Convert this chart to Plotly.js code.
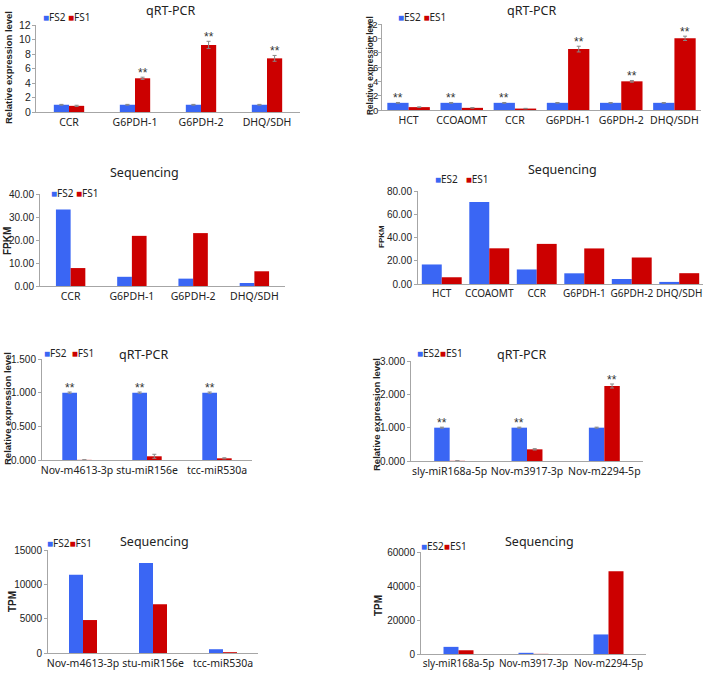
<!DOCTYPE html>
<html>
<head>
<meta charset="utf-8">
<script src="https://cdn.plot.ly/plotly-3.0.1.min.js"></script>
<style>
  body { margin: 0; background: #fff; }
  #chart { width: 706px; height: 675px; }
</style>
</head>
<body>
<div id="chart"></div>
<script>
// ---- data ----
const fsNames = ['FS2', 'FS1'];
const esNames = ['ES2', 'ES1'];

// panel 1: qRT-PCR, FS
const p1Cats = ['CCR', 'G6PDH-1', 'G6PDH-2', 'DHQ/SDH'];
const p1S2 = [1.0, 1.0, 1.0, 1.0];
const p1S1 = [0.85, 4.65, 9.25, 7.4];
const p1E2 = [0.05, 0.05, 0.05, 0.05];
const p1E1 = [0.08, 0.15, 0.5, 0.4];
const p1Star = ['', 'FS1', 'FS1', 'FS1'];
const p1YTicks = [0, 2, 4, 6, 8, 10, 12];

// panel 2: qRT-PCR, ES
const p2Cats = ['HCT', 'CCOAOMT', 'CCR', 'G6PDH-1', 'G6PDH-2', 'DHQ/SDH'];
const p2S2 = [1.0, 1.0, 1.0, 1.0, 1.0, 1.0];
const p2S1 = [0.4, 0.3, 0.2, 8.5, 4.0, 10.0];
const p2E2 = [0.05, 0.05, 0.05, 0.04, 0.04, 0.04];
const p2E1 = [0.03, 0.03, 0.03, 0.4, 0.12, 0.3];
const p2Star = ['ES2', 'ES2', 'ES2', 'ES1', 'ES1', 'ES1'];
const p2YTicks = [0, 2, 4, 6, 8, 10, 12];

// panel 3: Sequencing FPKM, FS
const p3Cats = ['CCR', 'G6PDH-1', 'G6PDH-2', 'DHQ/SDH'];
const p3S2 = [33.3, 4.0, 3.2, 1.3];
const p3S1 = [7.8, 21.8, 23.0, 6.4];

// panel 4: Sequencing FPKM, ES
const p4Cats = ['HCT', 'CCOAOMT', 'CCR', 'G6PDH-1', 'G6PDH-2', 'DHQ/SDH'];
const p4S2 = [16.8, 70.5, 12.5, 9.2, 4.3, 1.8];
const p4S1 = [5.8, 30.7, 34.5, 30.6, 22.8, 9.3];

// panel 5: qRT-PCR miRNA, FS
const p5Cats = ['Nov-m4613-3p', 'stu-miR156e', 'tcc-miR530a'];
const p5S2 = [1.0, 1.0, 1.0];
const p5S1 = [0.002, 0.055, 0.025];
const p5E2 = [0.01, 0.01, 0.01];
const p5E1 = [0.0, 0.03, 0.008];
const p5Star = ['FS2', 'FS2', 'FS2'];

// panel 6: qRT-PCR miRNA, ES
const p6Cats = ['sly-miR168a-5p', 'Nov-m3917-3p', 'Nov-m2294-5p'];
const p6S2 = [1.0, 1.0, 1.0];
const p6S1 = [0.005, 0.35, 2.25];
const p6E2 = [0.015, 0.015, 0.015];
const p6E1 = [0.0, 0.02, 0.06];
const p6Star = ['ES2', 'ES2', 'ES1'];

// panel 7: Sequencing TPM, FS
const p7Cats = ['Nov-m4613-3p', 'stu-miR156e', 'tcc-miR530a'];
const p7S2 = [11400, 13100, 550];
const p7S1 = [4800, 7100, 120];

// panel 8: Sequencing TPM, ES
const p8Cats = ['sly-miR168a-5p', 'Nov-m3917-3p', 'Nov-m2294-5p'];
const p8S2 = [4200, 700, 11500];
const p8S1 = [2200, 80, 48700];

// ---- layout helpers ----
const W = 706, H = 675;
const BLUE = '#3a66f4', RED = '#cc0000';
const FONT = 'Noto Sans, Liberation Sans, sans-serif';
const NUMFONT = 'Liberation Sans, Arial, sans-serif';

function px(x) { return x / W; }
function py(y) { return 1 - y / H; }

const traces = [];
const annotations = [];
const layout = {
  width: W, height: H,
  margin: {l: 0, r: 0, t: 0, b: 0},
  showlegend: false,
  barmode: 'overlay',
  font: {family: FONT, size: 10, color: '#333'},
  annotations: annotations
};

function panel(k, p) {
  const xa = 'xaxis' + (k === 1 ? '' : k), ya = 'yaxis' + (k === 1 ? '' : k);
  const xr = 'x' + (k === 1 ? '' : k), yr = 'y' + (k === 1 ? '' : k);
  const w = p.barW;
  const errStyle = {color: '#888', thickness: 1, width: 2};
  const series = [
    {name: p.names[0], y: p.s2, e: p.e2, color: BLUE, off: -w},
    {name: p.names[1], y: p.s1, e: p.e1, color: RED, off: 0}
  ];
  series.forEach(s => {
    const t = {
      type: 'bar', x: p.cats, y: s.y, name: s.name,
      width: w, offset: s.off,
      marker: {color: s.color, line: {width: 0}},
      xaxis: xr, yaxis: yr, hoverinfo: 'none'
    };
    if (s.e) t.error_y = Object.assign({type: 'data', array: s.e, visible: true}, errStyle);
    traces.push(t);
  });
  // significance stars
  if (p.star) {
    p.star.forEach((st, i) => {
      if (!st) return;
      const si = st === p.names[0] ? 0 : 1;
      const s = series[si];
      annotations.push({
        xref: xr, yref: yr, x: i + s.off + w / 2,
        y: s.y[i] + (s.e ? s.e[i] : 0),
        text: '**', showarrow: false, yanchor: 'bottom', yshift: -5,
        font: {family: NUMFONT, size: 12, color: '#333'}
      });
    });
  }
  const b = p.box;
  layout[xa] = {
    domain: [px(b[0]), px(b[1])], anchor: yr, type: 'category',
    range: [-0.5, p.cats.length - 0.5],
    showline: true, linecolor: '#a6a6a6', linewidth: 1, ticks: '',
    showgrid: false, zeroline: false, tickangle: 0,
    ticklabeloverflow: 'allow',
    tickfont: {family: FONT, size: p.xfs || 10.5, color: '#222'}
  };
  layout[ya] = {
    domain: [py(b[3]), py(b[2])], anchor: xr,
    range: p.yr, dtick: p.dtick, tickformat: p.fmt,
    showline: true, linecolor: '#a6a6a6', linewidth: 1,
    ticks: 'outside', ticklen: 3, tickcolor: '#a6a6a6',
    showgrid: false, zeroline: false,
    ticklabeloverflow: 'allow',
    tickfont: {family: NUMFONT, size: p.yfs || 10, color: '#222'}
  };
  // the top-row y tick labels did not show up as axis labels here, so they are
  // placed on the same y scale as annotations
  if (p.yTicks) {
    layout[ya].showticklabels = false;
    p.yTicks.forEach(v => {
      annotations.push({
        xref: 'paper', yref: yr, x: px(b[0]), y: v, xanchor: 'right', yanchor: 'middle',
        xshift: -p.yGap, text: String(v), showarrow: false,
        font: {family: NUMFONT, size: p.yfs || 10, color: '#222'}
      });
    });
  }
  // chart title
  annotations.push({
    xref: 'paper', yref: 'paper', x: px(p.title[1]), y: py(p.title[2]),
    text: p.title[0], showarrow: false, xanchor: 'center', yanchor: 'middle',
    font: {family: FONT, size: 12.5, color: '#222'}
  });
  // legend
  annotations.push({
    xref: 'paper', yref: 'paper', x: px(p.leg[0]), y: py(p.leg[1]),
    text: '<span style="color:' + BLUE + '">■</span>' + p.names[0] + p.legGap +
          '<span style="color:' + RED + '">■</span>' + p.names[1],
    showarrow: false, xanchor: 'left', yanchor: 'middle',
    font: {family: FONT, size: 10, color: '#222'}
  });
  // y axis title
  annotations.push({
    xref: 'paper', yref: 'paper', x: px(p.ytitle[1]), y: py(p.ytitle[2]),
    text: p.ytitle[0], textangle: -90, showarrow: false,
    xanchor: 'center', yanchor: 'middle',
    font: {family: NUMFONT, size: p.ytitle[3], color: '#222', weight: 'bold'}
  });
}

panel(1, {cats: p1Cats, names: fsNames, s2: p1S2, s1: p1S1, e2: p1E2, e1: p1E1, star: p1Star,
  barW: 0.23, box: [36, 300, 25, 112], yr: [0, 12], dtick: 2, fmt: 'd',
  yTicks: p1YTicks, yGap: 3, yfs: 10.5,
  title: ['qRT-PCR', 170, 11], leg: [41, 17], legGap: ' ',
  ytitle: ['Relative expression level', 8, 68, 9.5]});
panel(2, {cats: p2Cats, names: esNames, s2: p2S2, s1: p2S1, e2: p2E2, e1: p2E1, star: p2Star,
  barW: 0.4, box: [382, 701, 24, 110], yr: [0, 12], dtick: 2, fmt: 'd', yfs: 9.5,
  yTicks: p2YTicks, yGap: 2,
  title: ['qRT-PCR', 531, 10], leg: [396, 17], legGap: ' ',
  ytitle: ['Relative expression level', 370, 66, 8.3]});
panel(3, {cats: p3Cats, names: fsNames, s2: p3S2, s1: p3S1,
  barW: 0.24, box: [40, 285, 194, 286], yr: [0, 40], dtick: 10, fmt: '.2f',
  title: ['Sequencing', 144, 173], leg: [49, 193], legGap: ' ',
  ytitle: ['FPKM', 7, 241, 10]});
panel(4, {cats: p4Cats, names: esNames, s2: p4S2, s1: p4S1,
  barW: 0.42, box: [418, 703, 191, 284], yr: [0, 80], dtick: 20, fmt: '.2f', xfs: 10,
  title: ['Sequencing', 562, 170], leg: [433, 179], legGap: '   ',
  ytitle: ['FPKM', 381, 237, 8]});
panel(5, {cats: p5Cats, names: fsNames, s2: p5S2, s1: p5S1, e2: p5E2, e1: p5E1, star: p5Star,
  barW: 0.21, box: [42, 252, 359, 460], yr: [0, 1.5], dtick: 0.5, fmt: '.3f',
  title: ['qRT-PCR', 143, 354], leg: [42, 353], legGap: '  ',
  ytitle: ['Relative expression level', 7, 409, 9.5]});
panel(6, {cats: p6Cats, names: esNames, s2: p6S2, s1: p6S1, e2: p6E2, e1: p6E1, star: p6Star,
  barW: 0.2, box: [411, 643, 361, 461], yr: [0, 3], dtick: 1, fmt: '.3f',
  title: ['qRT-PCR', 521, 354], leg: [415, 353], legGap: '',
  ytitle: ['Relative expression level', 376, 415, 9.5]});
panel(7, {cats: p7Cats, names: fsNames, s2: p7S2, s1: p7S1,
  barW: 0.2, box: [48, 258, 550, 653], yr: [0, 15000], dtick: 5000, fmt: 'd',
  title: ['Sequencing', 154, 541], leg: [45, 543], legGap: '',
  ytitle: ['TPM', 12, 602, 10]});
panel(8, {cats: p8Cats, names: esNames, s2: p8S2, s1: p8S1,
  barW: 0.2, box: [421, 646, 552, 654], yr: [0, 60000], dtick: 20000, fmt: 'd', xfs: 10,
  title: ['Sequencing', 539, 541], leg: [419, 546], legGap: '',
  ytitle: ['TPM', 378, 606, 10]});

Plotly.newPlot('chart', traces, layout, {staticPlot: true, displayModeBar: false});
</script>
</body>
</html>
